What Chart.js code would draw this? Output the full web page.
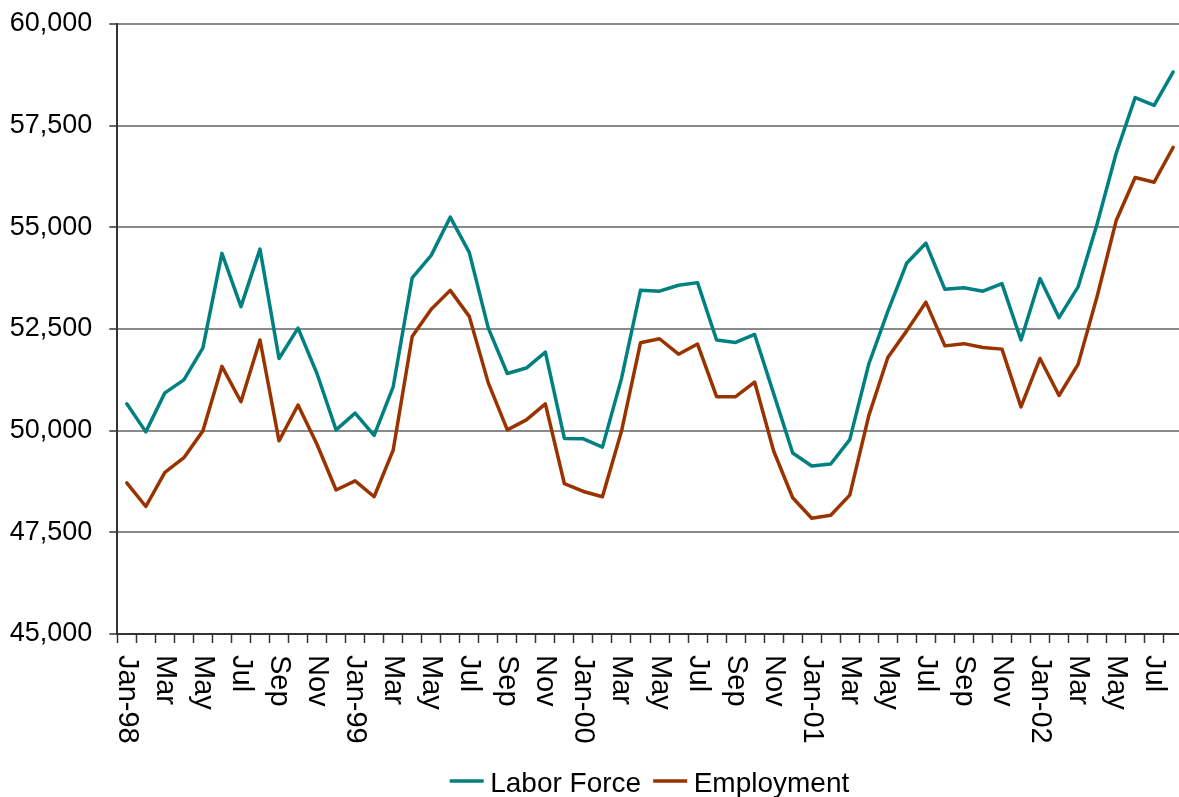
<!DOCTYPE html>
<html>
<head>
<meta charset="utf-8">
<script src="https://cdn.jsdelivr.net/npm/chart.js@4.4.0/dist/chart.umd.min.js"></script>
<style>
  html, body { margin: 0; padding: 0; background: #fff; overflow: hidden; }
  #wrap { position: relative; width: 1179px; height: 797px; overflow: hidden; }
  canvas { display: block; }
</style>
</head>
<body>
<div id="wrap"><canvas id="chart" width="1200" height="797"></canvas></div>
<script>
// Monthly categories, Jan 1998 – Aug 2002
const months = [
  'Jan-98','Feb','Mar','Apr','May','Jun','Jul','Aug','Sep','Oct','Nov','Dec',
  'Jan-99','Feb','Mar','Apr','May','Jun','Jul','Aug','Sep','Oct','Nov','Dec',
  'Jan-00','Feb','Mar','Apr','May','Jun','Jul','Aug','Sep','Oct','Nov','Dec',
  'Jan-01','Feb','Mar','Apr','May','Jun','Jul','Aug','Sep','Oct','Nov','Dec',
  'Jan-02','Feb','Mar','Apr','May','Jun','Jul','Aug'
];

const laborForce = [
  50660, 49970, 50930, 51250, 52035, 54360, 53050, 54465, 51775, 52520, 51400, 50020,
  50430, 49885, 51075, 53760, 54310, 55250, 54385, 52520, 51405, 51540, 51930, 49810,
  49800, 49595, 51280, 53450, 53430, 53575, 53640, 52230, 52170, 52365, 50910, 49450,
  49130, 49180, 49780, 51640, 52935, 54125, 54610, 53475, 53515, 53430, 53615, 52230,
  53740, 52780, 53535, 55080, 56815, 58190, 58000, 58820
];

const employment = [
  48715, 48135, 48975, 49335, 49995, 51580, 50710, 52230, 49750, 50630, 49660, 48540,
  48765, 48375, 49520, 52315, 52985, 53450, 52810, 51175, 50020, 50265, 50660, 48695,
  48505, 48375, 49985, 52160, 52260, 51880, 52130, 50835, 50835, 51195, 49500, 48350,
  47845, 47920, 48415, 50370, 51800, 52460, 53160, 52085, 52140, 52045, 52005, 50585,
  51775, 50865, 51630, 53300, 55160, 56225, 56110, 56970
];

const seriesNames = ['Labor Force', 'Employment'];
const seriesColors = ['#008080', '#993300'];

const yMin = 45000, yMax = 60000, yStep = 2500;
const labelInterval = 2; // every other month is labelled

const FONT = '"Liberation Sans", Arial, Helvetica, sans-serif';
Chart.defaults.font.family = FONT;
Chart.defaults.color = '#000';

// Month labels, turned a quarter clockwise so they read downward
const downwardMonthLabels = {
  id: 'downwardMonthLabels',
  afterDraw(chart) {
    const xs = chart.scales.x;
    const ctx = chart.ctx;
    ctx.save();
    ctx.font = '29px ' + FONT;
    ctx.fillStyle = '#000';
    ctx.textAlign = 'left';
    ctx.textBaseline = 'middle';
    const top = xs.top + 21;
    months.forEach((m, i) => {
      if (i % labelInterval !== 0) return;
      const x = xs.getPixelForTick(i);
      ctx.save();
      ctx.translate(x, top);
      ctx.rotate(Math.PI / 2);
      ctx.fillText(m, 0, 0);
      ctx.restore();
    });
    ctx.restore();
  }
};

// Series key below the axis labels
const bottomKey = {
  id: 'bottomKey',
  afterDraw(chart) {
    const ctx = chart.ctx;
    ctx.save();
    ctx.font = '28px ' + FONT;
    ctx.textAlign = 'left';
    ctx.textBaseline = 'alphabetic';
    const lineLen = 34, textGap = 6.5, itemGap = 12;
    const items = chart.data.datasets.map(ds => ({
      text: ds.label, color: ds.borderColor, w: ctx.measureText(ds.label).width
    }));
    const total = items.reduce((s, it) => s + lineLen + textGap + it.w, 0) + itemGap * (items.length - 1);
    let x = 649.5 - total / 2;
    const lineY = 781, baseY = 792;
    items.forEach(it => {
      ctx.strokeStyle = it.color;
      ctx.lineWidth = 3.5;
      ctx.beginPath();
      ctx.moveTo(x, lineY);
      ctx.lineTo(x + lineLen, lineY);
      ctx.stroke();
      x += lineLen + textGap;
      ctx.fillStyle = '#000';
      ctx.fillText(it.text, x, baseY);
      x += it.w + itemGap;
    });
    ctx.restore();
  }
};

new Chart(document.getElementById('chart'), {
  type: 'line',
  data: {
    labels: months,
    datasets: [
      { label: seriesNames[0], data: laborForce, borderColor: seriesColors[0], backgroundColor: seriesColors[0] },
      { label: seriesNames[1], data: employment, borderColor: seriesColors[1], backgroundColor: seriesColors[1] }
    ]
  },
  options: {
    responsive: false,
    animation: false,
    devicePixelRatio: 1,
    layout: { padding: { left: 0, right: 17.3, top: 24, bottom: 0 } },
    elements: {
      line: { borderWidth: 3.5, tension: 0, borderJoinStyle: 'round', borderCapStyle: 'round' },
      point: { radius: 0, hoverRadius: 0 }
    },
    plugins: {
      legend: { display: false },
      tooltip: { enabled: false }
    },
    scales: {
      x: {
        type: 'category',
        offset: true,
        grid: {
          offset: true,
          drawOnChartArea: false,
          drawTicks: true,
          tickLength: 9,
          tickColor: '#333',
          tickWidth: 1.5
        },
        border: { color: '#333', width: 2 },
        ticks: { display: false },
        afterFit(scale) { scale.height = 163; }
      },
      y: {
        min: yMin,
        max: yMax,
        grid: {
          color: '#8a8a8a',
          lineWidth: 2,
          drawTicks: true,
          tickLength: 8,
          tickColor: '#333',
          tickWidth: 1.5
        },
        border: { color: '#333', width: 2 },
        ticks: {
          stepSize: yStep,
          padding: 17,
          font: { size: 27 },
          color: '#000',
          callback: v => v.toLocaleString('en-US')
        },
        afterFit(scale) {
          scale.width = 117.3;
          scale.paddingTop = 0;
          scale.paddingBottom = 0;
        }
      }
    }
  },
  plugins: [downwardMonthLabels, bottomKey]
});
</script>
</body>
</html>
